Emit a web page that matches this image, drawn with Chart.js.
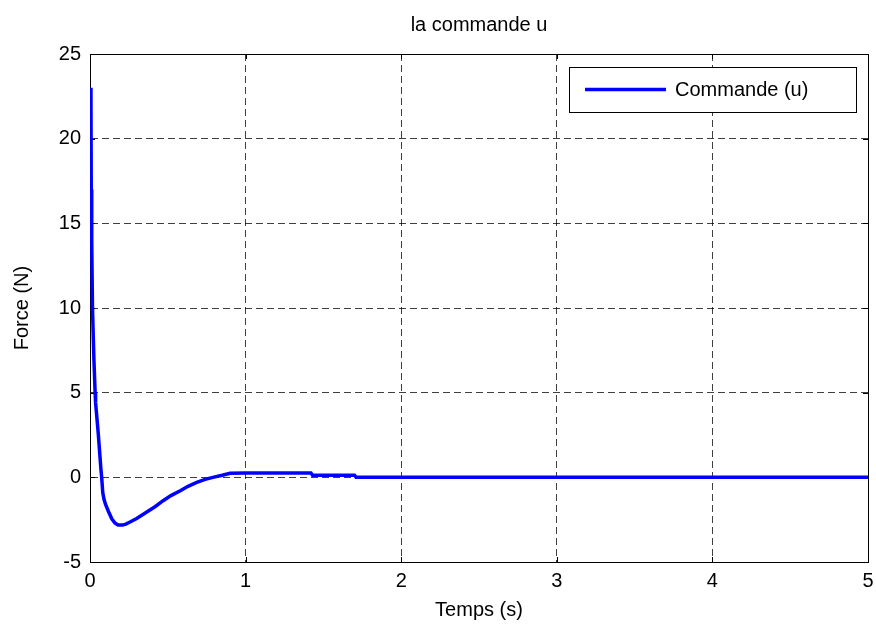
<!DOCTYPE html>
<html>
<head>
<meta charset="utf-8">
<script src="https://cdn.jsdelivr.net/npm/chart.js@4"></script>
<style>
  html,body{margin:0;padding:0;background:#fff;}
  #wrap{width:876px;height:630px;}
</style>
</head>
<body>
<div id="wrap"><canvas id="c" width="876" height="630"></canvas></div>
<script>
// ---- data ----
const timeValues = [0.006, 0.008, 0.011, 0.016, 0.025, 0.033, 0.036, 0.053, 0.07, 0.075, 0.082, 0.09, 0.1, 0.118, 0.14, 0.16, 0.18, 0.21, 0.23, 0.257, 0.3, 0.365, 0.42, 0.47, 0.52, 0.58, 0.63, 0.686, 0.74, 0.79, 0.85, 0.9, 1.0, 1.42, 1.43, 1.70, 1.71, 5];
const forceValues = [23, 17, 14, 10, 7, 5, 4.4, 2.6, 0.5, 0, -0.9, -1.3, -1.6, -2.0, -2.45, -2.7, -2.82, -2.82, -2.76, -2.64, -2.43, -2.05, -1.72, -1.38, -1.08, -0.79, -0.53, -0.3, -0.12, 0.0, 0.12, 0.24, 0.25, 0.25, 0.12, 0.12, 0, 0];
const xTicks = [0, 1, 2, 3, 4, 5];
const yTicks = [-5, 0, 5, 10, 15, 20, 25];
const seriesLabel = 'Commande (u)';
const chartTitle = 'la commande u';
const xTitle = 'Temps (s)';
const yTitle = 'Force (N)';

const FONT = 'Arial, "Liberation Sans", Helvetica, sans-serif';

const points = timeValues.map((t, i) => ({x: t, y: forceValues[i]}));

const framePlugin = {
  id: 'frame',
  beforeDraw(chart) {
    const ctx = chart.ctx;
    ctx.save();
    ctx.fillStyle = '#fff';
    ctx.fillRect(0, 0, chart.width, chart.height);
    ctx.restore();
  },
  beforeDatasetsDraw(chart) {
    const {ctx, chartArea: a, scales} = chart;
    ctx.save();
    ctx.strokeStyle = '#000';
    ctx.lineWidth = 1;
    ctx.strokeRect(Math.round(a.left) + 0.5, Math.round(a.top) + 0.5,
                   Math.round(a.right - a.left), Math.round(a.bottom - a.top));
    const tl = 5;
    ctx.beginPath();
    xTicks.forEach(v => {
      const x = Math.round(scales.x.getPixelForValue(v)) + 0.5;
      ctx.moveTo(x, a.bottom); ctx.lineTo(x, a.bottom - tl);
      ctx.moveTo(x, a.top); ctx.lineTo(x, a.top + tl);
    });
    yTicks.forEach(v => {
      const y = Math.round(scales.y.getPixelForValue(v)) + 0.5;
      ctx.moveTo(a.left, y); ctx.lineTo(a.left + tl, y);
      ctx.moveTo(a.right, y); ctx.lineTo(a.right - tl, y);
    });
    ctx.stroke();
    ctx.restore();
  },
  afterDraw(chart) {
    const {ctx, chartArea: a} = chart;
    ctx.save();
    ctx.fillStyle = '#000';
    ctx.font = '20px ' + FONT;
    ctx.textAlign = 'center';
    ctx.textBaseline = 'middle';
    ctx.fillText(chartTitle, (a.left + a.right) / 2, 25);
    const ds = chart.data.datasets[0];
    const lx = 569, ly = 67, lw = 287, lh = 45;
    ctx.fillStyle = '#fff';
    ctx.fillRect(lx, ly, lw, lh);
    ctx.strokeStyle = '#000';
    ctx.lineWidth = 1;
    ctx.strokeRect(lx + 0.5, ly + 0.5, lw, lh);
    ctx.strokeStyle = ds.borderColor;
    ctx.lineWidth = 3.5;
    ctx.beginPath();
    ctx.moveTo(585, 89.5); ctx.lineTo(666, 89.5);
    ctx.stroke();
    ctx.fillStyle = '#000';
    ctx.textAlign = 'left';
    ctx.fillText(ds.label, 675, 90);
    ctx.restore();
  }
};

new Chart(document.getElementById('c'), {
  type: 'line',
  data: {
    datasets: [{
      label: seriesLabel,
      data: points,
      borderColor: '#0000ff',
      backgroundColor: '#0000ff',
      borderWidth: 3.5,
      pointRadius: 0,
      tension: 0,
      fill: false
    }]
  },
  options: {
    responsive: false,
    animation: false,
    events: [],
    layout: {padding: {top: 54, right: 8, bottom: 0, left: 0}},
    plugins: {
      legend: {display: false},
      title: {display: false},
      tooltip: {enabled: false}
    },
    scales: {
      x: {
        type: 'linear',
        min: 0, max: 5,
        afterBuildTicks(s) { s.ticks = xTicks.map(v => ({value: v})); },
        afterFit(s) { s.height = 68; s.paddingLeft = 0; s.paddingRight = 0; },
        ticks: {
          color: '#000', font: {family: FONT, size: 20}, padding: 7,
          maxRotation: 0, autoSkip: false
        },
        grid: {
          color: 'rgba(0,0,0,0.75)', lineWidth: 1, drawTicks: false,
          tickLength: 0
        },
        border: {display: true, color: '#000', dash: [7, 4]},
        title: {display: true, text: xTitle, color: '#000',
                font: {family: FONT, size: 20}, padding: {top: 2, bottom: 8}}
      },
      y: {
        type: 'linear',
        min: -5, max: 25,
        afterBuildTicks(s) { s.ticks = yTicks.map(v => ({value: v})); },
        afterFit(s) { s.width = 90; s.paddingTop = 0; s.paddingBottom = 0; },
        ticks: {
          color: '#000', font: {family: FONT, size: 20}, padding: 9,
          autoSkip: false
        },
        grid: {
          color: 'rgba(0,0,0,0.75)', lineWidth: 1, drawTicks: false,
          tickLength: 0
        },
        border: {display: true, color: '#000', dash: [7, 4]},
        title: {display: true, text: yTitle, color: '#000',
                font: {family: FONT, size: 20}, padding: {top: 10, bottom: 0}}
      }
    }
  },
  plugins: [framePlugin]
});
</script>
</body>
</html>
